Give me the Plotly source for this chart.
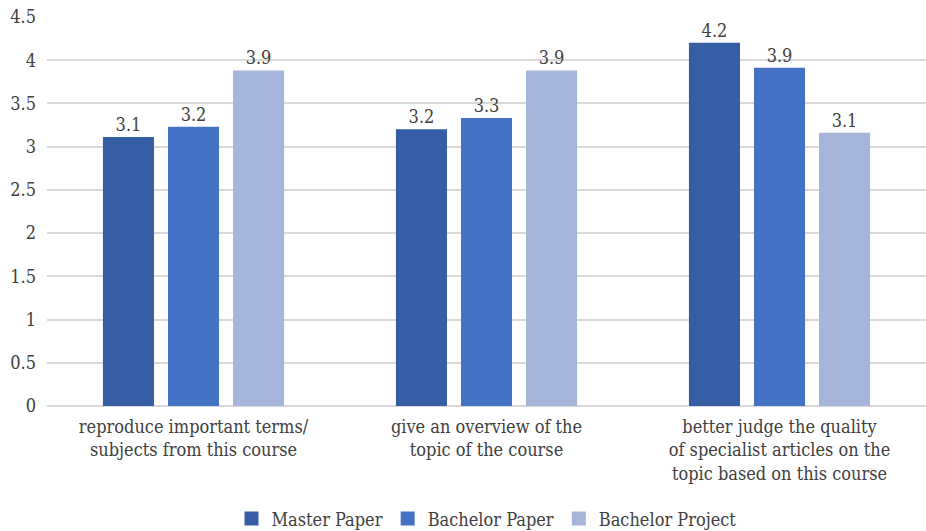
import plotly.graph_objects as go

categories = [
    "reproduce important terms/<br>subjects from this course",
    "give an overview of the<br>topic of the course",
    "better judge the quality<br>of specialist articles on the<br>topic based on this course",
]
series_names = ["Master Paper", "Bachelor Paper", "Bachelor Project"]
master_paper = [3.10, 3.19, 4.19]
bachelor_paper = [3.22, 3.32, 3.90]
bachelor_project = [3.87, 3.87, 3.15]
colors = ["#365EA4", "#4472C4", "#A7B5DA"]
y_ticks = [0, 0.5, 1, 1.5, 2, 2.5, 3, 3.5, 4, 4.5]

FONT = "DejaVu Serif Condensed, Liberation Serif, serif"
TXT = "#404040"
FS = 18

fig = go.Figure()
for name, vals, col in zip(series_names, [master_paper, bachelor_paper, bachelor_project], colors):
    fig.add_trace(go.Bar(
        name=name, x=categories, y=vals, marker_color=col,
        marker_line=dict(color=col, width=2),
        texttemplate="%{y:.1f}", textposition="outside",
        textfont=dict(family=FONT, size=FS, color=TXT),
        cliponaxis=False,
    ))

fig.update_layout(
    width=926, height=531,
    margin=dict(l=47, r=0, t=17, b=125, autoexpand=False),
    paper_bgcolor="white", plot_bgcolor="white",
    barmode="group", bargap=0.334, bargroupgap=0.246,
    font=dict(family=FONT, size=FS, color=TXT),
    showlegend=True,
    legend=dict(orientation="h", x=0.5, xanchor="center", y=-0.29, yanchor="middle",
                font=dict(family=FONT, size=FS, color=TXT), itemwidth=30,
                traceorder="normal"),
)
fig.update_yaxes(range=[0, 4.5], tickvals=y_ticks, ticktext=[f"{v:g}" for v in y_ticks],
                 gridcolor="#D9D9D9", gridwidth=1.5, zeroline=True, zerolinecolor="#D9D9D9",
                 zerolinewidth=1.5, showline=False, ticks="", ticklabelstandoff=10,
                 tickfont=dict(family=FONT, size=FS, color=TXT))
fig.update_xaxes(showline=False, ticks="", ticklabelstandoff=8,
                 tickfont=dict(family=FONT, size=FS, color=TXT))

fig.write_html("out.html")
